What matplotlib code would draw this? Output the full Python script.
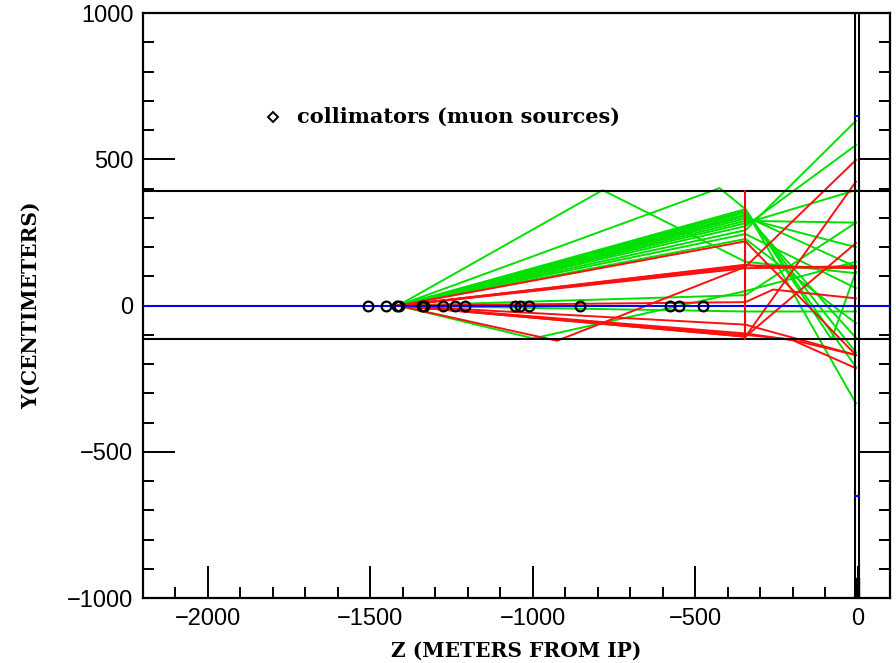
import matplotlib
matplotlib.use('Agg')
import matplotlib.pyplot as plt
from matplotlib.ticker import MultipleLocator

# collimator positions along the beam line (m)
collimator_z = [-1508, -1452, -1418, -1413, -1341, -1336, -1275, -1239, -1210,
                -1054, -1038, -1013, -856, -576, -551, -477]

# aperture limits (cm) and detector wall position (m)
y_top_wall = 392
y_bot_wall = -114
z_red_wall = -345
z_ip_lines = [-8, 6]

# muon tracks as (z [m], y [cm]) points
green_tracks = [
    [(-1415, 0), (-785, 395), (-345, 150), (-5, 111)],
    [(-1415, 0), (-425, 402), (-345, 330), (-80, -115), (-5, 116)],
    [(-1415, 0), (-345, 330), (-5, -334)],
    [(-1415, 0), (-345, 324), (-5, -210)],
    [(-1415, 0), (-345, 318), (-5, -160)],
    [(-1415, 0), (-345, 311), (-5, -110)],
    [(-1415, 0), (-345, 305), (-5, 133)],
    [(-1415, 0), (-345, 298), (-5, 200)],
    [(-1415, 0), (-345, 290), (-5, 284)],
    [(-1415, 0), (-345, 282), (-5, 395)],
    [(-1415, 0), (-345, 272), (-5, 549)],
    [(-1415, 0), (-345, 258), (-5, 632)],
    [(-1415, 0), (-345, 245), (-5, 60)],
    [(-1415, 0), (-345, 228), (-5, -60)],
    [(-1415, 0), (-998, -112), (-345, 50), (-5, 150)],
    [(-1415, 0), (-345, 36), (-5, 284)],
    [(-1415, 0), (-345, -20), (-5, -20)],
]

red_tracks = [
    [(-1415, 0), (-345, 220), (-5, -169)],
    [(-1415, 0), (-345, 133), (-5, 498)],
    [(-1415, 0), (-345, -106), (-5, 424)],
    [(-1415, 0), (-345, 138), (-5, 128)],
    [(-1415, 0), (-345, 128), (-5, 135)],
    [(-1415, 0), (-345, 140), (-280, 130), (-5, 130)],
    [(-1415, 0), (-345, 12), (-260, 55), (-5, 25)],
    [(-1415, 0), (-345, -106), (-5, 214)],
    [(-1415, 0), (-345, -95), (-200, -118), (-5, -214)],
    [(-1415, 0), (-345, -100), (-210, -115), (-5, -169)],
    [(-1415, 0), (-925, -120), (-345, 133)],
    [(-1415, 0), (-345, -65), (-5, -169)],
]

legend_pos = (-1800, 645)
legend_text = "collimators (muon sources)"

fig = plt.figure(figsize=(8.96, 6.63), dpi=100)
ax = fig.add_axes([0.1596, 0.098, 0.8337, 0.882])

ax.set_xlim(-2200, 100)
ax.set_ylim(-1000, 1000)

for tr in green_tracks:
    ax.plot([p[0] for p in tr], [p[1] for p in tr], color='#00e000', lw=1.4, zorder=2)
for tr in red_tracks:
    ax.plot([p[0] for p in tr], [p[1] for p in tr], color='#ff1010', lw=1.4, zorder=2)

# walls / beam line
ax.axhline(y_top_wall, color='black', lw=1.5, zorder=3)
ax.axhline(y_bot_wall, color='black', lw=1.5, zorder=3)
ax.axhline(0, color='#0000ff', lw=1.5, zorder=3)
ax.plot([z_red_wall, z_red_wall], [y_bot_wall, y_top_wall], color='#ff0000', lw=1.5, zorder=3)
for z in z_ip_lines:
    ax.axvline(z, color='black', lw=1.5, zorder=4)
ax.fill_between(z_ip_lines, -1000, -930, color='black', zorder=4)
ax.plot(z_ip_lines, [650, 650], color='#0000ff', lw=1.5, zorder=4)
ax.plot(z_ip_lines, [-650, -650], color='#0000ff', lw=1.5, zorder=4)

ax.plot(collimator_z, [0] * len(collimator_z), linestyle='none', marker='o',
        markersize=7, mfc='none', mec='black', mew=1.6, zorder=5)

# legend
ax.plot([legend_pos[0]], [legend_pos[1]], marker='D', markersize=5, mfc='none',
        mec='black', mew=1.4)
ax.text(legend_pos[0] + 75, legend_pos[1], legend_text, fontsize=15,
        family='DejaVu Serif', weight='bold', va='center', ha='left')

# ticks
ax.xaxis.set_major_locator(MultipleLocator(500))
ax.xaxis.set_minor_locator(MultipleLocator(100))
ax.yaxis.set_major_locator(MultipleLocator(500))
ax.yaxis.set_minor_locator(MultipleLocator(100))
ax.tick_params(which='major', direction='in', length=23, width=1.4,
               top=False, right=True, labelsize=17, pad=7)
ax.tick_params(which='minor', direction='in', length=8, width=1.4,
               top=False, right=True)
for s in ax.spines.values():
    s.set_linewidth(1.6)
for lab in ax.get_xticklabels() + ax.get_yticklabels():
    lab.set_family('Liberation Sans')

ax.set_xlabel("Z (METERS FROM IP)", fontsize=14.5, family='DejaVu Serif',
              weight='bold', labelpad=8)
ax.set_ylabel("Y(CENTIMETERS)", fontsize=14.5, family='DejaVu Serif',
              weight='bold', labelpad=19)

fig.savefig('out.png', dpi=100)
